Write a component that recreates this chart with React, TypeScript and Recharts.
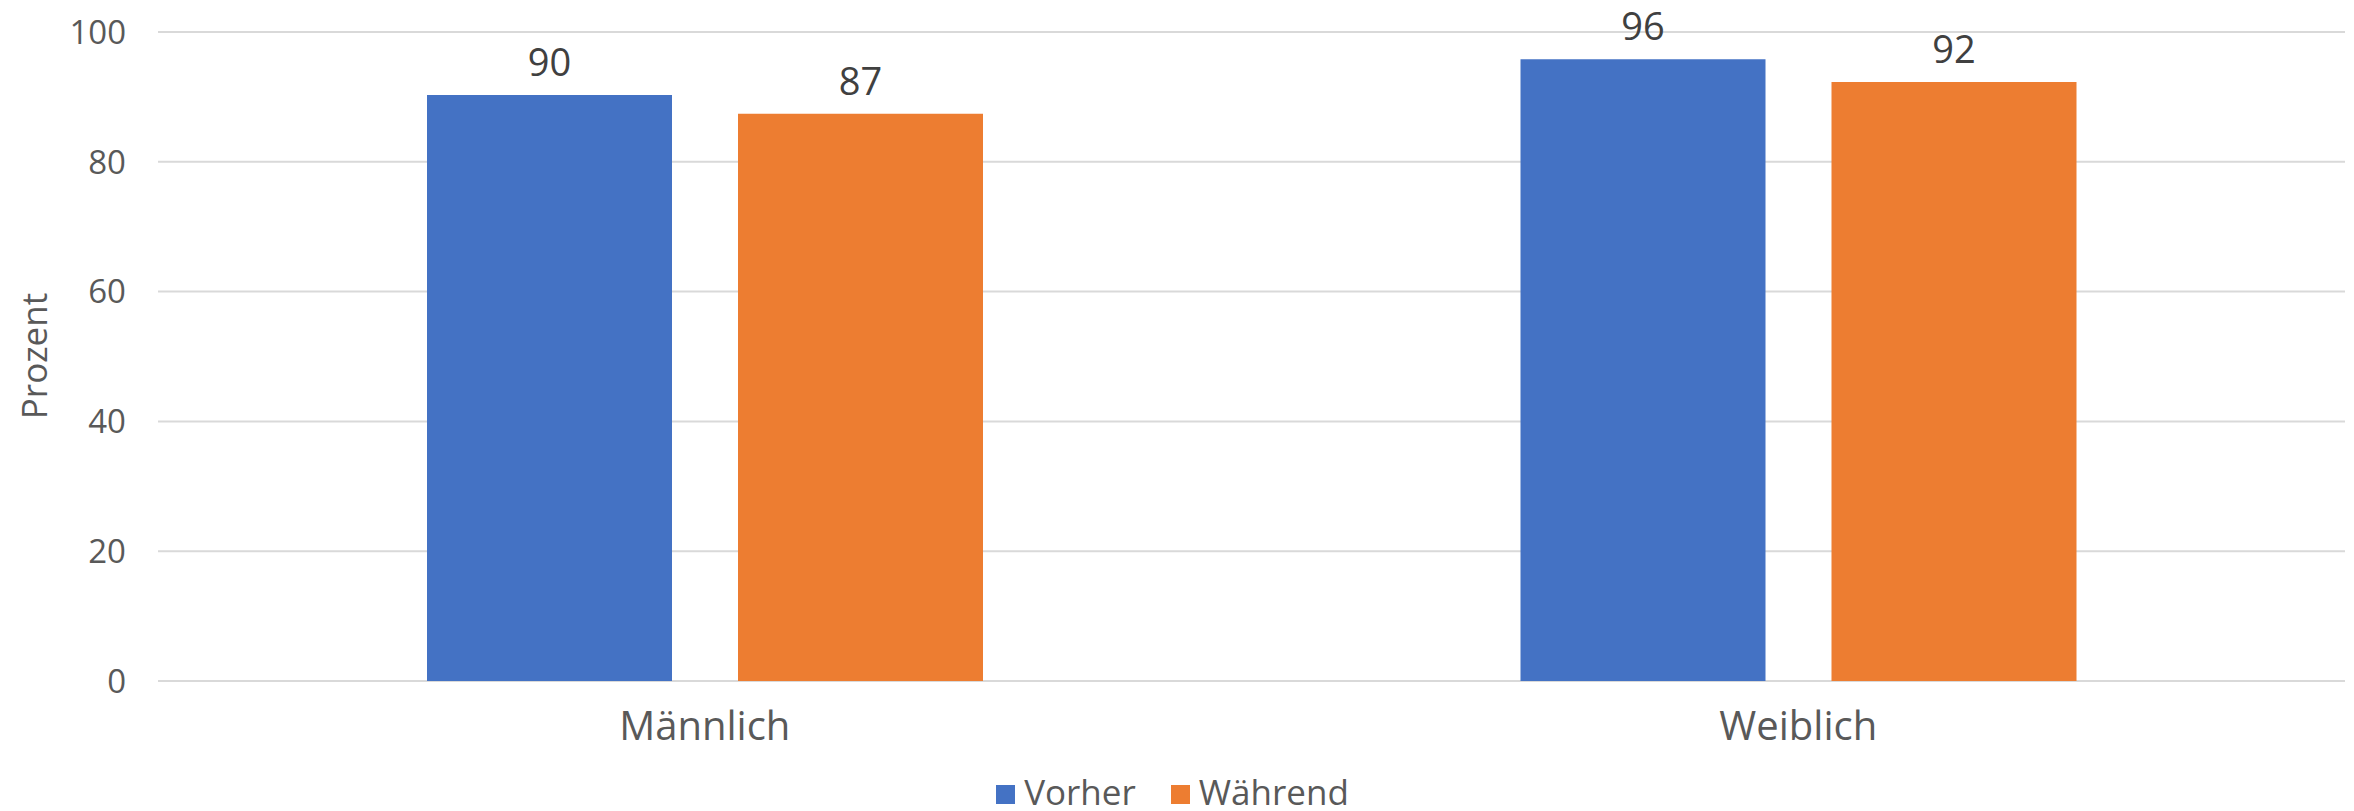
import { BarChart, Bar, XAxis, YAxis, CartesianGrid, Legend, LabelList } from 'recharts';

const categories = ['Männlich', 'Weiblich'];
const vorher = [90.3, 95.8];
const waehrend = [87.4, 92.3];
const yTicks = [0, 20, 40, 60, 80, 100];
const seriesNames = ['Vorher', 'Während'];
const colors = ['#4472C4', '#ED7D31'];

const data = categories.map((name, i) => ({ name, vorher: vorher[i], waehrend: waehrend[i] }));

const font = '"Open Sans", "Noto Sans", sans-serif';
const fmt = (v: any) => Number(v).toFixed(0);

function LegendContent() {
  return (
    <div style={{ height: 60, display: 'flex', justifyContent: 'center', alignItems: 'flex-end', fontFamily: font }}>
      {seriesNames.map((s, i) => (
        <div key={s} style={{ display: 'flex', alignItems: 'center', marginLeft: i ? 35 : 0, marginBottom: 2 }}>
          <span style={{ width: 19, height: 19, background: colors[i], marginRight: 9, position: 'relative', top: 3 }} />
          <span style={{ fontSize: 35, lineHeight: 1, color: '#595959' }}>{s}</span>
        </div>
      ))}
    </div>
  );
}

export default function App() {
  return (
    <div>
      <style>{'body{margin:0}'}</style>
      <BarChart width={2354} height={811} data={data} margin={{ top: 32, right: 9, left: 0, bottom: 0 }} barSize={245} barGap={66}>
        <CartesianGrid vertical={false} stroke="#D9D9D9" strokeWidth={2} />
        <XAxis
          dataKey="name"
          axisLine={false}
          tickLine={false}
          tickSize={0}
          tickMargin={31}
          height={70}
          tick={{ fontSize: 40, fill: '#595959', fontFamily: font }}
        />
        <YAxis
          width={158}
          domain={[0, 100]}
          ticks={yTicks}
          axisLine={false}
          tickLine={false}
          tickSize={0}
          tickMargin={32}
          tick={{ fontSize: 33, fill: '#595959', fontFamily: font }}
          label={() => (
            <text
              transform="translate(33,356) rotate(-90)"
              textAnchor="middle"
              dominantBaseline="central"
              fontSize={35}
              fill="#595959"
              fontFamily={font}
            >
              Prozent
            </text>
          )}
        />
        <Legend verticalAlign="bottom" height={60} content={<LegendContent />} />
        <Bar dataKey="vorher" name={seriesNames[0]} fill={colors[0]} isAnimationActive={false}>
          <LabelList dataKey="vorher" position="top" offset={19} formatter={fmt} fontSize={38} fill="#404040" fontFamily={font} />
        </Bar>
        <Bar dataKey="waehrend" name={seriesNames[1]} fill={colors[1]} isAnimationActive={false}>
          <LabelList dataKey="waehrend" position="top" offset={19} formatter={fmt} fontSize={38} fill="#404040" fontFamily={font} />
        </Bar>
      </BarChart>
    </div>
  );
}
